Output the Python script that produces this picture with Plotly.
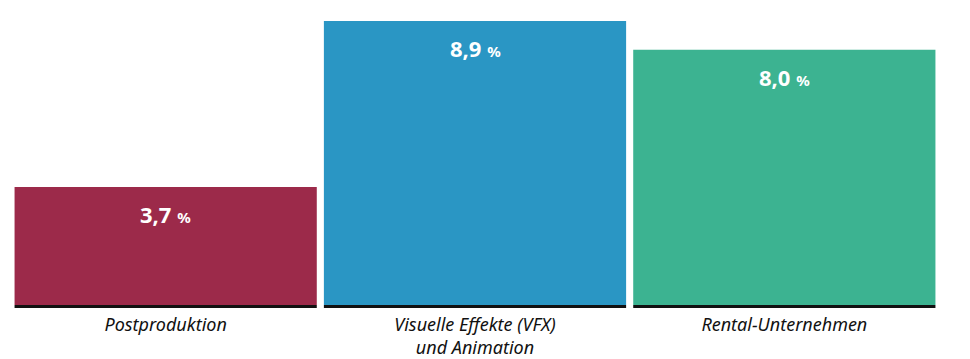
import plotly.graph_objects as go

categories = ["Postproduktion", "Visuelle Effekte (VFX)<br>und Animation", "Rental-Unternehmen"]
values = [3.7, 8.9, 8.0]
value_labels = ["3,7", "8,9", "8,0"]
colors = ["#9c2a4a", "#2a96c4", "#3cb391"]

bargap = 0.023
fig = go.Figure()
fig.add_trace(go.Bar(
    x=list(range(len(categories))), y=values,
    marker=dict(color=colors, line=dict(width=0)),
    hoverinfo="skip",
))

for i, (v, lab) in enumerate(zip(values, value_labels)):
    fig.add_annotation(
        x=i, y=v, xref="x", yref="y", yanchor="middle", yshift=-27,
        text=f"<b>{lab} <span style='font-size:15px'>%</span></b>",
        showarrow=False,
        font=dict(family="Noto Sans", size=22, color="white"),
    )
    w = 1 - bargap
    fig.add_shape(
        type="rect", xref="x", yref="y",
        x0=i - w / 2, x1=i + w / 2,
        ysizemode="pixel", yanchor=0, y0=-3, y1=0,
        fillcolor="#111111", line=dict(width=0), layer="above",
    )

fig.update_layout(
    width=962, height=351,
    margin=dict(l=3, r=31, t=0, b=51),
    paper_bgcolor="white", plot_bgcolor="white",
    bargap=bargap, showlegend=False,
    xaxis=dict(
        tickmode="array", tickvals=list(range(len(categories))), ticktext=categories,
        tickfont=dict(family="Noto Sans", size=18, color="#111111", style="italic"),
        showgrid=False, zeroline=False, showline=False, ticks="",
        range=[-0.5, len(categories) - 0.5],
        ticklabelstandoff=4,
    ),
    yaxis=dict(visible=False, range=[-0.094, 9.307], showgrid=False, zeroline=False),
)

fig.write_html("out.html")
